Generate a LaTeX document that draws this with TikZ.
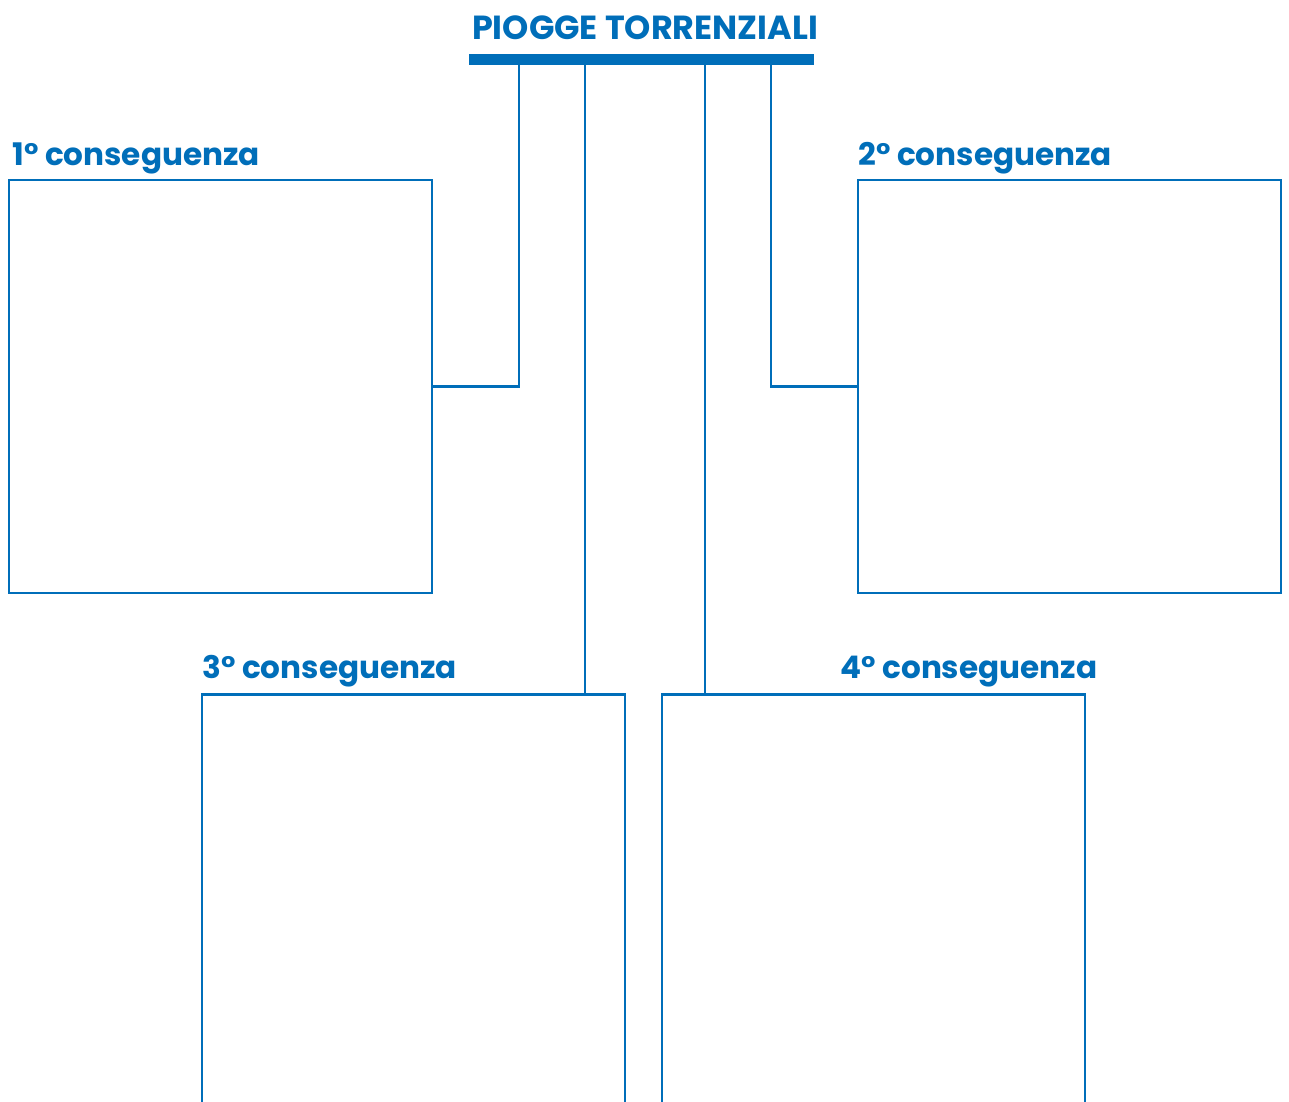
\documentclass[tikz,border=0pt]{standalone}
\usepackage{fontspec}
\setmainfont{Poppins}
\usepackage{tikz}

\definecolor{blu}{RGB}{0,110,185}

\tikzset{
    riquadro/.style={draw=blu, line width=1.6pt, minimum width=8.46cm, minimum height=8.26cm, inner sep=0pt},
    etichetta/.style={anchor=base west, inner sep=0pt, text=blu, font=\bfseries\fontsize{17.7}{21}\selectfont},
    linea/.style={draw=blu, line width=1.6pt}
}

\begin{document}
\begin{tikzpicture}[x=0.02cm,y=-0.02cm]
    \clip (0,0) rectangle (1289,1102);
    \fill [white] (0,0) rectangle (1289,1102);

    % titolo e barra
    \node [anchor=base, inner sep=0pt, text=blu, font=\bfseries\fontsize{19}{23}\selectfont] (titolo) at (645,39) {PIOGGE TORRENZIALI};
    \node [fill=blu, minimum width=6.9cm, minimum height=0.22cm, inner sep=0pt] (barra) at (641.5,59.5) {};

    % riquadri
    \node [riquadro] (box1) at (220.5,386.5) {};
    \node [riquadro] (box2) at (1069.5,386.5) {};
    \node [riquadro, anchor=north] (box3) at (413.5,693) {};
    \node [riquadro, anchor=north] (box4) at (873.5,693) {};

    % etichette
    \node [etichetta] (lab1) at (12,165) {1° conseguenza};
    \node [etichetta] (lab2) at (858,165) {2° conseguenza};
    \node [etichetta] (lab3) at (202,678) {3° conseguenza};
    \node [etichetta] (lab4) at (840,678) {4° conseguenza};

    % collegamenti
    \coordinate (a1) at (519,65);
    \coordinate (a2) at (585,65);
    \coordinate (a3) at (705,65);
    \coordinate (a4) at (771,65);
    \draw [linea] (a1) |- (box1.east);
    \draw [linea] (a4) |- (box2.west);
    \draw [linea] (a2) -- (a2 |- box3.north);
    \draw [linea] (a3) -- (a3 |- box4.north);
\end{tikzpicture}
\end{document}
